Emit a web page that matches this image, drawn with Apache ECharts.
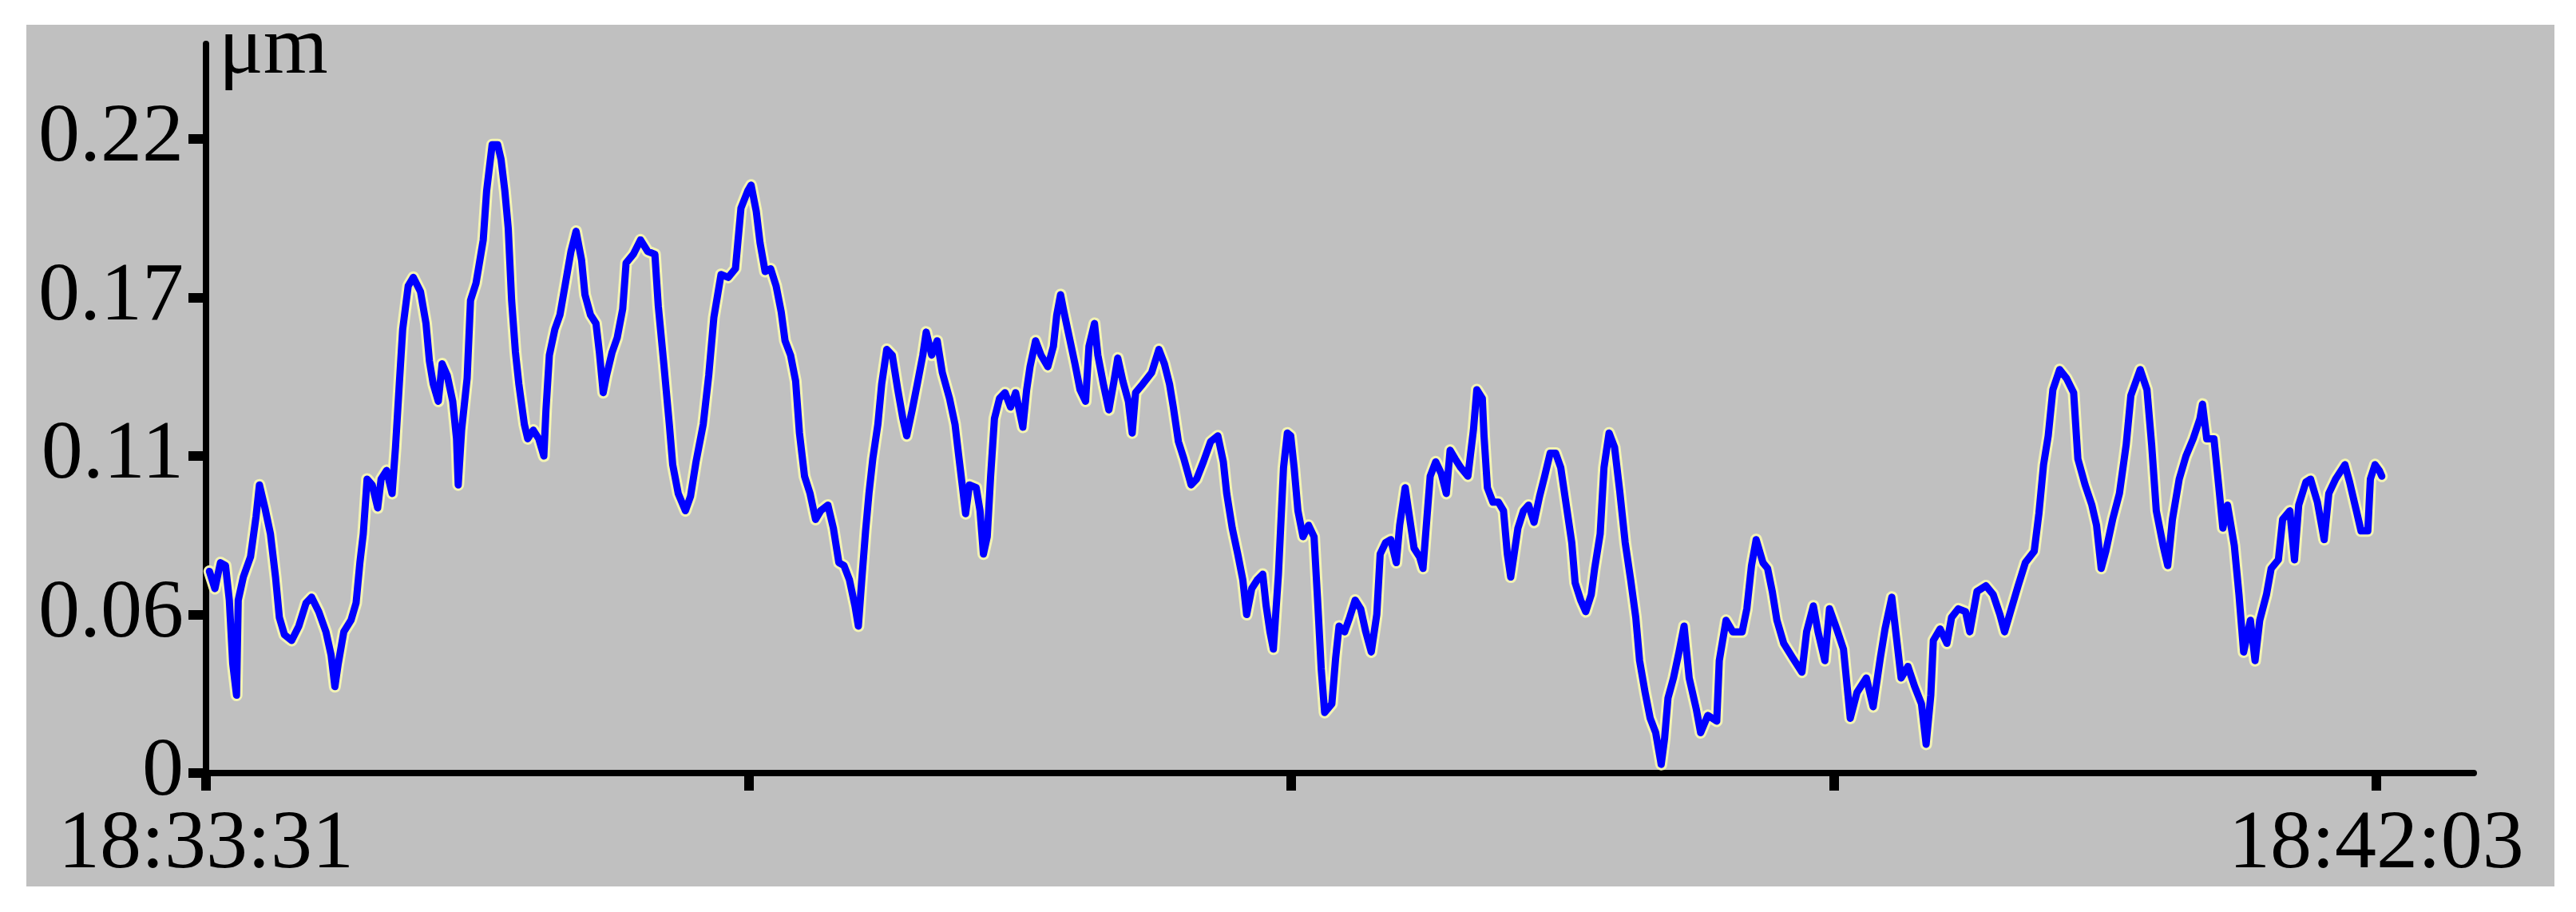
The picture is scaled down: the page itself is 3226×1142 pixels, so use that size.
<!DOCTYPE html>
<html>
<head>
<meta charset="utf-8">
<script src="https://cdn.jsdelivr.net/npm/echarts@6/dist/echarts.min.js"></script>
<style>
  html, body { margin: 0; padding: 0; background: #ffffff; width: 3226px; height: 1142px; overflow: hidden; }
  #panel { position: absolute; left: 33px; top: 31px; width: 3166px; height: 1079px; background: #c0c0c0; }
  #chart { width: 3166px; height: 1079px; }
</style>
</head>
<body>
<div id="panel"><div id="chart"></div></div>
<script>
// Seconds since 18:33:31
const timeSec = [
  0.8,2.1,3.4,4.6,5.5,6.3,7.2,7.6,8.8,10.5,11.8,12.6,13.9,15.2,16.4,17.3,18.5,20.2,21.9,23.6,24.9,26.6,28.3,29.5,30.4,31.2,32.5,34.2,35.4,36.3,37.1,38.0,39.2,40.5,41.3,42.6,43.9,44.7,45.6,46.4,47.7,48.9,50.6,51.9,52.7,53.6,54.8,55.7,56.9,58.2,59.1,59.5,60.3,61.6,62.4,63.7,64.5,65.4,66.2,67.5,68.8,69.6,70.5,71.3,72.1,73.0,73.8,75.1,75.9,77.2,78.5,79.7,80.2,81.0,82.3,83.5,84.8,86.1,87.3,88.6,89.4,90.7,92.0,92.8,93.7,94.5,95.8,97.0,98.3,99.1,100.8,102.5,104.2,105.9,106.7,108.0,109.3,110.1,111.4,113.1,114.3,115.6,117.3,118.6,119.8,121.5,123.2,124.9,126.2,127.8,
  128.6,129.8,130.7,131.9,133.2,134.5,135.7,136.6,137.9,139.1,140.0,141.2,142.5,143.8,145.0,146.7,148.0,149.3,150.5,151.8,153.1,153.9,154.7,155.6,156.4,157.3,158.5,159.4,160.6,161.9,163.2,164.4,165.3,166.6,167.8,169.1,169.9,171.2,172.5,173.7,175.4,176.7,177.5,178.4,179.2,180.1,181.7,182.6,183.4,184.3,185.1,186.0,187.2,188.5,189.8,191.0,192.7,193.6,194.4,195.7,197.0,198.6,199.9,200.7,201.6,202.4,203.7,205.0,206.2,207.5,208.3,209.6,210.4,211.7,213.0,214.2,215.1,216.3,217.6,218.5,219.3,221.0,223.1,224.8,226.1,227.3,228.2,229.4,230.7,232.4,233.7,235.3,237.0,238.7,240.0,240.8,242.1,243.4,244.6,245.5,246.7,248.0,249.3,250.1,251.0,251.8,
  253.0,254.2,255.1,255.9,256.7,257.6,258.8,260.1,261.4,262.2,263.1,263.9,265.6,266.5,267.3,268.6,269.8,271.1,272.4,273.6,274.9,276.2,277.0,278.3,279.5,280.8,281.6,282.9,283.7,285.0,286.3,287.1,288.0,288.8,290.1,291.4,292.6,293.5,294.7,296.0,297.7,299.0,299.8,301.1,301.5,302.3,303.6,304.9,306.1,307.0,307.8,308.6,309.5,310.8,312.0,313.3,314.6,315.8,317.1,318.4,319.6,320.9,322.2,323.0,324.3,325.5,326.8,327.6,328.9,329.8,331.0,332.3,333.5,334.8,336.1,337.3,338.2,339.5,340.7,342.0,343.3,344.1,344.9,346.2,347.5,348.7,
  349.9,351.6,352.6,354.3,356.4,357.0,358.6,360.2,362.4,363.5,364.6,365.7,367.3,368.4,369.5,370.6,372.2,374.3,376.5,377.6,379.2,380.3,381.9,383.0,384.7,386.3,387.9,389.5,391.7,393.3,395.0,396.1,397.7,398.8,399.9,401.5,403.1,404.7,405.8,406.9,407.5,409.1,410.7,411.8,413.4,415.1,416.1,417.8,419.9,421.6,423.2,424.3,425.9,427.5,429.2,431.3,432.4,433.5,434.6,435.7,437.3,438.9,440.6,441.6,443.3,444.9,446.0,447.1,448.2,449.8,451.4,453.0,454.1,456.3,457.9,459.0,460.1,461.7,462.8,463.9,465.5,467.1,468.8,470.4,471.0,472.0,473.7,474.8,475.8,476.9,478.5,479.6,480.7,482.3,483.4,484.5,486.1,487.2,488.9,489.9,491.6,492.7,493.7,495.4,496.5,498.1,499.7,500.8,502.4,504.6,505.7,507.3,508.4,510.0,510.6,511.7,512.7,513.3
];
// Displacement in µm
const displacement = [
  0.070,0.064,0.073,0.072,0.060,0.038,0.027,0.060,0.068,0.075,0.089,0.100,0.092,0.083,0.068,0.054,0.048,0.046,0.051,0.059,0.061,0.056,0.049,0.041,0.030,0.038,0.049,0.053,0.059,0.073,0.083,0.102,0.100,0.092,0.102,0.105,0.097,0.113,0.135,0.154,0.169,0.172,0.167,0.156,0.143,0.135,0.129,0.142,0.138,0.129,0.116,0.100,0.119,0.137,0.164,0.170,0.177,0.185,0.202,0.218,0.218,0.213,0.202,0.189,0.164,0.146,0.135,0.121,0.116,0.119,0.116,0.110,0.126,0.145,0.154,0.159,0.170,0.181,0.188,0.178,0.166,0.159,0.156,0.146,0.132,0.138,0.146,0.151,0.161,0.177,0.180,0.185,0.181,0.180,0.162,0.142,0.121,0.107,0.097,0.091,0.096,0.108,0.121,0.138,0.158,0.173,0.172,0.175,0.196,0.202,
  0.204,0.195,0.184,0.174,0.175,0.169,0.160,0.150,0.145,0.136,0.118,0.103,0.097,0.088,0.091,0.093,0.085,0.073,0.072,0.067,0.058,0.051,0.067,0.084,0.097,0.109,0.121,0.135,0.147,0.145,0.133,0.123,0.117,0.126,0.135,0.145,0.153,0.145,0.150,0.139,0.130,0.121,0.111,0.100,0.090,0.100,0.099,0.091,0.076,0.082,0.103,0.123,0.130,0.132,0.127,0.132,0.120,0.133,0.141,0.150,0.145,0.141,0.148,0.159,0.166,0.160,0.151,0.142,0.133,0.129,0.148,0.156,0.145,0.135,0.126,0.136,0.144,0.136,0.129,0.118,0.132,0.135,0.139,0.147,0.142,0.135,0.127,0.115,0.109,0.100,0.102,0.108,0.115,0.117,0.108,0.097,0.085,0.076,0.067,0.055,0.064,0.067,0.069,0.058,0.049,0.043,
  0.069,0.106,0.118,0.117,0.106,0.091,0.082,0.086,0.082,0.061,0.036,0.021,0.024,0.040,0.051,0.049,0.054,0.060,0.057,0.049,0.042,0.055,0.076,0.080,0.081,0.073,0.086,0.099,0.091,0.078,0.075,0.071,0.088,0.103,0.108,0.104,0.097,0.112,0.109,0.106,0.103,0.119,0.133,0.130,0.117,0.099,0.094,0.094,0.091,0.076,0.068,0.076,0.085,0.091,0.093,0.087,0.096,0.103,0.111,0.111,0.106,0.093,0.080,0.066,0.060,0.056,0.062,0.071,0.083,0.106,0.118,0.113,0.098,0.080,0.067,0.054,0.039,0.028,0.019,0.014,0.003,0.012,0.026,0.033,0.042,0.051,
  0.033,0.022,0.014,0.020,0.018,0.039,0.053,0.049,0.049,0.057,0.072,0.081,0.073,0.071,0.063,0.053,0.045,0.040,0.035,0.049,0.058,0.049,0.039,0.057,0.050,0.043,0.019,0.028,0.033,0.023,0.040,0.050,0.061,0.047,0.033,0.037,0.030,0.024,0.010,0.027,0.046,0.050,0.045,0.054,0.057,0.056,0.049,0.063,0.065,0.062,0.055,0.049,0.057,0.065,0.073,0.077,0.090,0.107,0.117,0.133,0.140,0.137,0.132,0.109,0.100,0.093,0.086,0.071,0.077,0.088,0.097,0.114,0.131,0.140,0.133,0.114,0.091,0.079,0.072,0.088,0.102,0.110,0.116,0.123,0.128,0.116,0.116,0.100,0.085,0.093,0.079,0.062,0.042,0.053,0.039,0.053,0.062,0.071,0.074,0.088,0.091,0.074,0.093,0.101,0.102,0.094,0.081,0.097,0.102,0.107,0.101,0.091,0.084,0.084,0.102,0.107,0.105,0.103
];
const yTickValues = [0, 0.055, 0.11, 0.165, 0.22];
const yTickLabels = ['0', '0.06', '0.11', '0.17', '0.22'];
const xTickValues = [0, 128, 256, 384, 512];
const xTickLabels = ['18:33:31', '', '', '', '18:42:03'];
const yUnit = 'μm';

const seriesData = timeSec.map((t, i) => [t, displacement[i]]);
const FONT = '"Liberation Serif", "Times New Roman", serif';

function labelFor(values, labels, v) {
  let best = 0;
  for (let i = 1; i < values.length; i++) {
    if (Math.abs(values[i] - v) < Math.abs(values[best] - v)) best = i;
  }
  return labels[best];
}

const chart = echarts.init(document.getElementById('chart'), null, { renderer: 'canvas' });
chart.setOption({
  animation: false,
  backgroundColor: 'transparent',
  grid: { left: 225, right: 101, top: 24, bottom: 142, containLabel: false, outerBoundsMode: 'none' },
  xAxis: {
    type: 'value',
    min: 0,
    max: 535,
    splitLine: { show: false },
    axisLine: { show: true, onZero: false, lineStyle: { color: '#000', width: 8 } },
    axisTick: { show: true, inside: false, length: 22, customValues: xTickValues, lineStyle: { color: '#000', width: 12 } },
    axisLabel: {
      show: true,
      customValues: [xTickValues[0], xTickValues[4]],
      formatter: v => labelFor(xTickValues, xTickLabels, v),
      margin: 39,
      color: '#000',
      fontFamily: FONT,
      fontSize: 104,
      lineHeight: 104
    }
  },
  yAxis: {
    type: 'value',
    min: 0,
    max: 0.253,
    name: yUnit,
    nameLocation: 'end',
    nameGap: -9,
    nameTextStyle: { color: '#000', fontFamily: FONT, fontSize: 104, lineHeight: 104, align: 'left', verticalAlign: 'middle', padding: [0, 0, 0, 16] },
    splitLine: { show: false },
    axisLine: { show: true, onZero: false, lineStyle: { color: '#000', width: 8 } },
    axisTick: { show: true, inside: false, length: 22, customValues: yTickValues, lineStyle: { color: '#000', width: 12 } },
    axisLabel: {
      show: true,
      customValues: yTickValues,
      formatter: v => labelFor(yTickValues, yTickLabels, v),
      margin: 28,
      color: '#000',
      fontFamily: FONT,
      fontSize: 104,
      lineHeight: 104
    }
  },
  series: [
    {
      type: 'line',
      data: seriesData,
      showSymbol: false,
      silent: true,
      z: 1,
      lineStyle: { color: '#f3f3b4', width: 15, join: 'round', cap: 'round' }
    },
    {
      type: 'line',
      data: seriesData,
      showSymbol: false,
      z: 2,
      lineStyle: { color: '#0000ff', width: 9, join: 'round', cap: 'round' }
    }
  ]
});
</script>
</body>
</html>
